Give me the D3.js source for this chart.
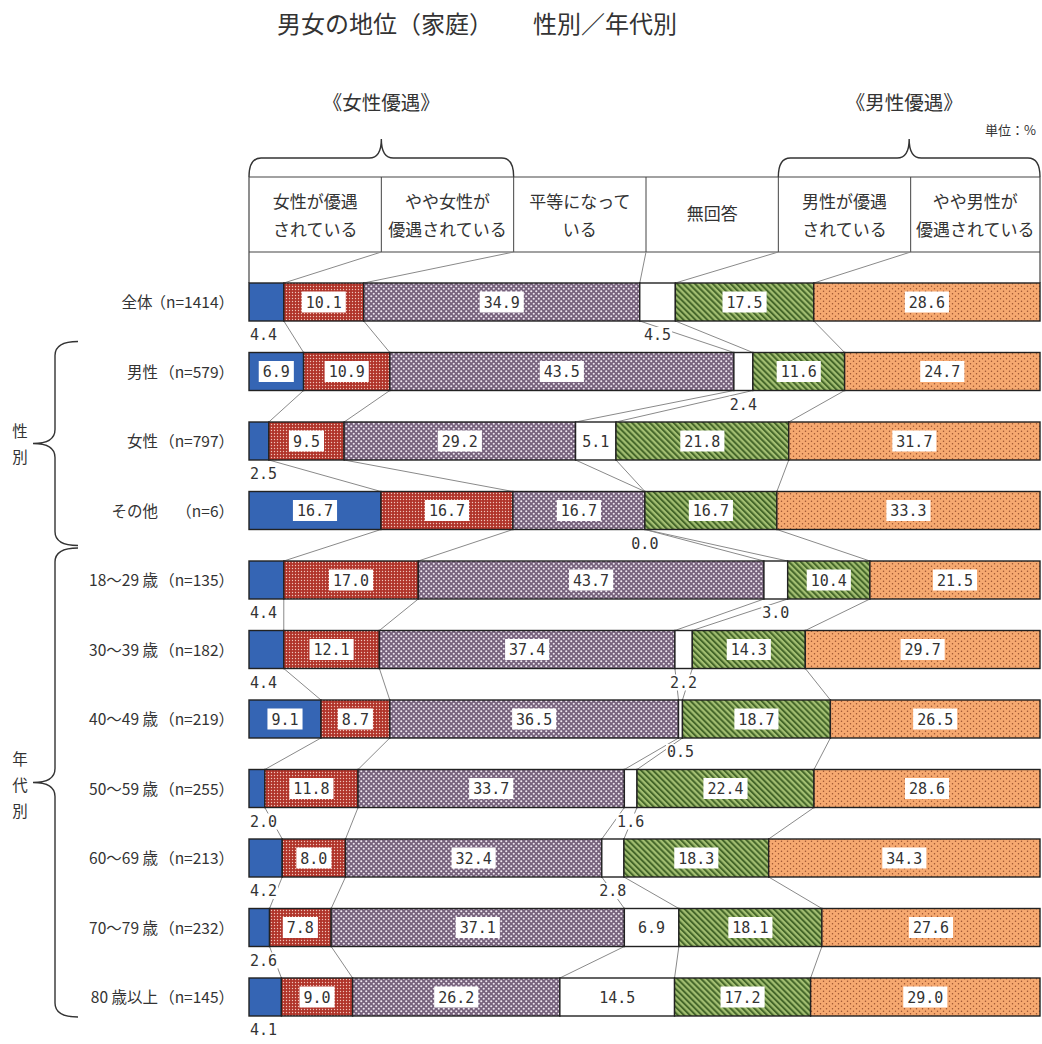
<!DOCTYPE html>
<html><head><meta charset="utf-8">
<script src="https://cdn.jsdelivr.net/npm/d3@7"></script>
<style>
body{margin:0;background:#fff;}
text{font-family:"Noto Sans CJK JP","Noto Sans",sans-serif;fill:#333;}
.num{font-family:"DejaVu Sans Mono","Liberation Mono",monospace;fill:#333;}
</style></head>
<body>
<svg id="chart" width="1042" height="1044"></svg>
<script>
// ---- data ----
const categories = ["全体","男性","女性","その他","18～29 歳","30～39 歳","40～49 歳","50～59 歳","60～69 歳","70～79 歳","80 歳以上"];
const sampleSizes = ["（n=1414）","（n=579）","（n=797）","（n=6）","（n=135）","（n=182）","（n=219）","（n=255）","（n=213）","（n=232）","（n=145）"];
const seriesLabels = [["女性が優遇","されている"],["やや女性が","優遇されている"],["平等になって","いる"],["無回答"],["男性が優遇","されている"],["やや男性が","優遇されている"]];
const womenFavored   = [4.4, 6.9, 2.5, 16.7, 4.4, 4.4, 9.1, 2.0, 4.2, 2.6, 4.1];
const somewhatWomen  = [10.1,10.9, 9.5, 16.7,17.0,12.1, 8.7,11.8, 8.0, 7.8, 9.0];
const equalValues    = [34.9,43.5,29.2, 16.7,43.7,37.4,36.5,33.7,32.4,37.1,26.2];
const noAnswer       = [4.5, 2.4, 5.1, 0.0, 3.0, 2.2, 0.5, 1.6, 2.8, 6.9,14.5];
const menFavored     = [17.5,11.6,21.8, 16.7,10.4,14.3,18.7,22.4,18.3,18.1,17.2];
const somewhatMen    = [28.6,24.7,31.7, 33.3,21.5,29.7,26.5,28.6,34.3,27.6,29.0];
const series = [womenFavored, somewhatWomen, equalValues, noAnswer, menFavored, somewhatMen];
const groupLabels = [{name:"性別", from:1, to:3}, {name:"年代別", from:4, to:10}];

// ---- setup ----
const svg = d3.select("#chart");
const defs = svg.append("defs");
const x = d3.scaleLinear().domain([0,100]).range([249,1040]);
const y = d3.scalePoint().domain(categories).range([283,978]);
const barH = 38;
const header = d3.scaleBand().domain(d3.range(6)).range([249,1043]);
const hx0 = k => k===0 ? 249 : header(k);
const hx1 = k => k===5 ? 1040 : header(k)+header.bandwidth();

// patterns
function pat(id,w,h,fn,tr){const p=defs.append("pattern").attr("id",id).attr("width",w).attr("height",h).attr("patternUnits","userSpaceOnUse"); if(tr)p.attr("patternTransform",tr); fn(p);}
pat("pRed",3,3,p=>{p.append("rect").attr("width",3).attr("height",3).attr("fill","#b0342a");p.append("circle").attr("cx",1.5).attr("cy",1.5).attr("r",0.7).attr("fill","#f1c4bb");});
pat("pPur",5,5,p=>{p.append("rect").attr("width",5).attr("height",5).attr("fill","#76627c");
  [[1.25,1.25],[3.75,3.75]].forEach(c=>p.append("circle").attr("cx",c[0]).attr("cy",c[1]).attr("r",1.05).attr("fill","#efe6f0"));});
pat("pGrn",4.2,4.2,p=>{p.append("rect").attr("width",4.2).attr("height",4.2).attr("fill","#a3bf72");p.append("rect").attr("width",2).attr("height",4.2).attr("fill","#45672a");},"rotate(-45)");
pat("pOrg",6,5,p=>{p.append("rect").attr("width",6).attr("height",5).attr("fill","#f6a970");
  [[1.5,1.2],[4.5,3.7]].forEach(c=>p.append("circle").attr("cx",c[0]).attr("cy",c[1]).attr("r",0.75).attr("fill","#9a532f"));});
const fills = ["#3565b4","url(#pRed)","url(#pPur)","#ffffff","url(#pGrn)","url(#pOrg)"];

// rows
const rows = categories.map((c,i)=>{
  const vals = series.map(s=>s[i]);
  const tot = d3.sum(vals);
  let acc = 0;
  const segs = vals.map((v,k)=>{const a=acc; acc+=v; return {k, v, x0:a/tot*100, x1:acc/tot*100};});
  return {c, n:sampleSizes[i], segs, top:y(c)};
});

// title
svg.append("text").attr("x",277).attr("y",33).attr("font-size",24).text("男女の地位（家庭）");
svg.append("text").attr("x",533).attr("y",33).attr("font-size",24).text("性別／年代別");

// top group titles + unit
svg.append("text").attr("x",(hx0(0)+hx1(1))/2).attr("y",110).attr("text-anchor","middle").attr("font-size",19.5).text("《女性優遇》");
svg.append("text").attr("x",(hx0(4)+hx1(5))/2 - 5).attr("y",110).attr("text-anchor","middle").attr("font-size",19.5).text("《男性優遇》");
svg.append("text").attr("x",1036).attr("y",135).attr("text-anchor","end").attr("font-size",13).text("単位：%");

// horizontal braces
function hBrace(x0,x1,yb,yh,yt){
  const m=(x0+x1)/2, r=12;
  return `M${x0},${yb} Q${x0},${yh} ${x0+r},${yh} L${m-r},${yh} Q${m},${yh} ${m},${yt} Q${m},${yh} ${m+r},${yh} L${x1-r},${yh} Q${x1},${yh} ${x1},${yb}`;
}
svg.append("path").attr("d",hBrace(hx0(0),hx1(1),177,158,139)).attr("fill","none").attr("stroke","#333").attr("stroke-width",1.4);
svg.append("path").attr("d",hBrace(hx0(4),hx1(5),177,158,139)).attr("fill","none").attr("stroke","#333").attr("stroke-width",1.4);

// header box
const hb = svg.append("g");
hb.append("line").attr("x1",249).attr("x2",1040).attr("y1",177).attr("y2",177).attr("stroke","#444").attr("stroke-width",1.2);
hb.append("line").attr("x1",249).attr("x2",1040).attr("y1",252).attr("y2",252).attr("stroke","#444").attr("stroke-width",1.2);
hb.append("line").attr("x1",249).attr("x2",249).attr("y1",177).attr("y2",283).attr("stroke","#444").attr("stroke-width",1.2);
hb.append("line").attr("x1",1040).attr("x2",1040).attr("y1",177).attr("y2",283).attr("stroke","#444").attr("stroke-width",1.2);
d3.range(1,6).forEach(k=>hb.append("line").attr("x1",header(k)).attr("x2",header(k)).attr("y1",177).attr("y2",252).attr("stroke","#444").attr("stroke-width",1));
seriesLabels.forEach((lines,k)=>{
  const cx = (hx0(k)+hx1(k))/2;
  if(lines.length===1){
    hb.append("text").attr("x",cx).attr("y",220).attr("text-anchor","middle").attr("font-size",17).text(lines[0]);
  } else {
    lines.forEach((t,j)=>hb.append("text").attr("x",cx).attr("y",208+j*28).attr("text-anchor","middle").attr("font-size",17).text(t));
  }
});

// connectors
const cg = svg.append("g").attr("stroke","#8a8a8a").attr("stroke-width",1).attr("fill","none");
d3.range(5).forEach(k=>{
  cg.append("line").attr("x1",header(k+1)).attr("y1",252).attr("x2",x(rows[0].segs[k].x1)).attr("y2",rows[0].top);
});
rows.forEach((r,i)=>{
  if(i===rows.length-1) return;
  const nx = rows[i+1];
  d3.range(5).forEach(k=>{
    cg.append("line").attr("x1",x(r.segs[k].x1)).attr("y1",r.top+barH).attr("x2",x(nx.segs[k].x1)).attr("y2",nx.top);
  });
});

// bars
const bars = svg.append("g");
rows.forEach(r=>{
  const g = bars.append("g");
  g.selectAll("rect").data(r.segs).join("rect")
    .attr("x",d=>x(d.x0)).attr("width",d=>Math.max(0,x(d.x1)-x(d.x0)))
    .attr("y",r.top).attr("height",barH)
    .attr("fill",d=>fills[d.k]).attr("stroke","#222").attr("stroke-width",1.4);
});

// value labels
const lg = svg.append("g");
rows.forEach(r=>{
  r.segs.forEach(d=>{
    const txt = d.v.toFixed(1);
    let tx, ty, anchor="middle", inside = d.v>=5;
    if(inside){ tx = x((d.x0+d.x1)/2); ty = r.top+barH/2+5.5; }
    else { ty = r.top+barH+19; if(d.k===0){tx=x(0)+1; anchor="start";} else tx = x((d.x0+d.x1)/2); }
    const t = lg.append("text").attr("class","num").attr("x",tx).attr("y",ty).attr("text-anchor",anchor).attr("font-size",15).text(txt);
    const bb = t.node().getBBox();
    if(inside){
      lg.insert("rect","text:last-child").attr("x",bb.x-4).attr("y",r.top+barH/2-10.5).attr("width",bb.width+8).attr("height",21).attr("fill","#fff");
    } else {
      lg.insert("rect","text:last-child").attr("x",bb.x-1).attr("y",bb.y+1).attr("width",bb.width+2).attr("height",bb.height-2).attr("fill","#fff");
    }
  });
});

// row labels
const rl = svg.append("g");
rows.forEach(r=>{
  const nt = rl.append("text").attr("x",234).attr("y",r.top+barH/2+6).attr("text-anchor","end").attr("font-size",15.5).text(r.n);
  const nb = nt.node().getBBox();
  rl.append("text").attr("x",Math.min(158, nb.x+2)).attr("y",r.top+barH/2+6).attr("text-anchor","end").attr("font-size",15.5).text(r.c);
});

// group braces on left
function vBrace(xe,xm,xt,top,bot,mid){
  const r=14;
  return `M${xe},${top} Q${xm},${top} ${xm},${top+r} L${xm},${mid-r} Q${xm},${mid} ${xt},${mid} Q${xm},${mid} ${xm},${mid+r} L${xm},${bot-r} Q${xm},${bot} ${xe},${bot}`;
}
groupLabels.forEach((gl,gi)=>{
  const top = y(categories[gl.from]) - (gi===0 ? 11 : 13);
  const bot = y(categories[gl.to]) + barH + (gi===0 ? 16 : 1);
  const mid = (top+bot)/2;
  svg.append("path").attr("d",vBrace(78,55,33,top,bot,mid)).attr("fill","none").attr("stroke","#333").attr("stroke-width",1.4);
  const chars = Array.from(gl.name);
  chars.forEach((ch,j)=>{
    svg.append("text").attr("x",20).attr("y",mid+8+(j-(chars.length-1)/2)*26 - (chars.length>2?0:2)).attr("text-anchor","middle").attr("font-size",15.5).text(ch);
  });
});
</script>
</body></html>
